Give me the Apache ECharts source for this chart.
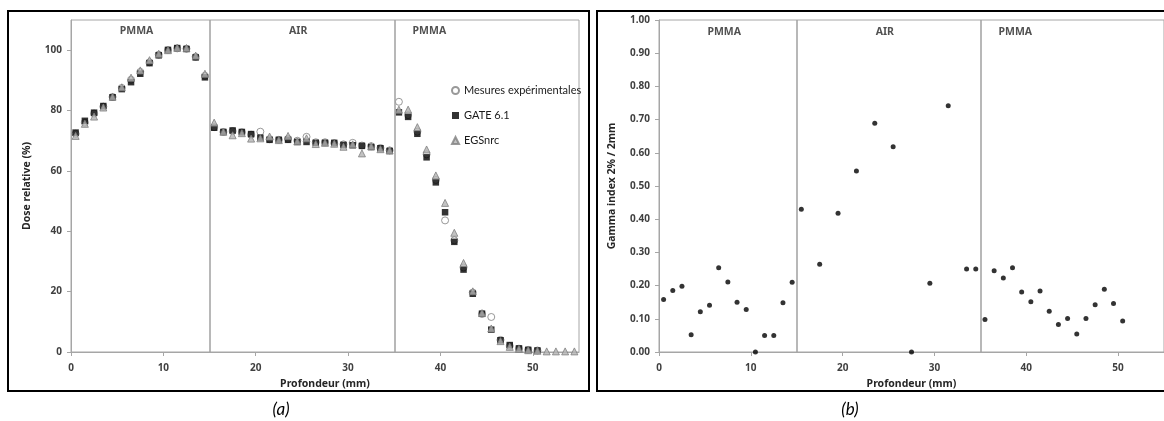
<!DOCTYPE html>
<html><head><meta charset="utf-8">
<script src="https://cdn.jsdelivr.net/npm/echarts@6/dist/echarts.min.js"></script>
<style>html,body{margin:0;padding:0;background:#fff}#c{width:1164px;height:421px}</style>
</head><body><div id="c"></div>
<script>
// ---- data ----
const depth = [0.5,1.5,2.5,3.5,4.5,5.5,6.5,7.5,8.5,9.5,10.5,11.5,12.5,13.5,14.5,15.5,16.5,17.5,18.5,19.5,20.5,21.5,22.5,23.5,24.5,25.5,26.5,27.5,28.5,29.5,30.5,31.5,32.5,33.5,34.5,35.5,36.5,37.5,38.5,39.5,40.5,41.5,42.5,43.5,44.5,45.5,46.5,47.5,48.5,49.5,50.5,51.5,52.5,53.5,54.5];
const mesures = [72.3,76.0,79.0,81.3,84.5,87.5,90.2,92.8,96.0,98.5,100.0,100.6,100.5,97.8,91.5,
  74.5,72.9,73.2,72.8,72.0,73.0,70.5,70.3,70.6,70.0,71.3,69.5,69.5,69.2,68.8,69.3,68.4,68.2,67.6,66.8,
  82.9,78.5,73.0,65.5,57.0,43.6,37.0,28.0,19.7,12.6,11.6,4.0,2.0,1.1,0.7,0.5];
const gate = [72.7,76.6,79.3,81.5,84.4,87.1,89.4,92.2,95.7,98.3,100.1,100.7,100.4,97.6,91.0,
  74.3,72.9,73.4,72.9,72.2,71.0,70.3,70.3,70.3,69.6,69.6,69.3,69.3,69.3,68.6,68.5,68.3,67.9,67.5,66.6,
  79.4,77.9,72.3,64.5,56.2,46.3,36.5,27.3,19.3,12.7,7.4,3.9,2.3,1.2,0.7,0.5];
const egs = [71.6,75.6,78.0,81.0,84.6,87.7,90.9,93.3,96.7,98.8,100.0,100.8,100.7,98.2,92.2,
  76.0,73.0,71.8,72.5,70.7,70.8,71.4,70.2,71.6,69.8,70.8,68.9,69.3,69.0,68.0,68.8,65.8,68.2,67.2,66.8,
  80.3,80.3,74.5,67.1,58.5,49.4,39.5,29.5,20.1,12.9,7.8,3.6,1.7,1.0,0.6,0.4,0.2,0.2,0.2,0.2];
const gammaDepth = [0.5,1.5,2.5,3.5,4.5,5.5,6.5,7.5,8.5,9.5,10.5,11.5,12.5,13.5,14.5,15.5,17.5,19.5,21.5,23.5,25.5,27.5,29.5,31.5,33.5,34.5,35.5,36.5,37.5,38.5,39.5,40.5,41.5,42.5,43.5,44.5,45.5,46.5,47.5,48.5,49.5,50.5];
const gamma = [0.158,0.185,0.198,0.052,0.121,0.141,0.254,0.211,0.150,0.128,0.000,0.050,0.050,0.148,0.210,0.430,0.264,0.418,0.545,0.689,0.618,0.000,0.207,0.742,0.250,0.250,0.098,0.245,0.223,0.254,0.181,0.151,0.184,0.123,0.083,0.101,0.054,0.101,0.142,0.189,0.146,0.093];
const boundaries = [15, 35];
const regionNames = ['PMMA', 'AIR', 'PMMA'];
const regionCenters = [7.1, 24.6, 38.8];
const doseTicks = [0, 20, 40, 60, 80, 100];
const gammaTicks = [0,0.1,0.2,0.3,0.4,0.5,0.6,0.7,0.8,0.9,1.0];
const depthTicks = [0, 10, 20, 30, 40, 50];
const seriesNames = ['Mesures expérimentales', 'GATE 6.1', 'EGSnrc'];
const xTitle = 'Profondeur (mm)';
const yTitleA = 'Dose relative (%)';
const yTitleB = 'Gamma index 2% / 2mm';

// ---- chart ----
const FONT = '"Noto Sans", "Open Sans", sans-serif';
const LFONT = 'Lato, "Noto Sans", sans-serif';
const pair = (xs, ys) => ys.map((v, i) => [xs[i], v]);
const labelStyle = {fontFamily: FONT, fontSize: 10, fontWeight: 'bold', color: '#404040'};
const titleStyle = {fontFamily: FONT, fontSize: 10.5, fontWeight: 'bold', color: '#262626'};
const axisLine = {show: true, lineStyle: {color: '#a6a6a6', width: 1}};
const axisTick = (vals, len) => ({show: true, length: len, lineStyle: {color: '#a6a6a6'}, customValues: vals});

function xAxis(gi) {
  return {type: 'value', gridIndex: gi, min: 0, max: 55, interval: 10,
    axisLine, axisTick: axisTick(depthTicks, 4), splitLine: {show: false},
    axisLabel: Object.assign({margin: 11, customValues: depthTicks}, labelStyle),
    name: xTitle, nameLocation: 'middle', nameGap: 27, nameTextStyle: titleStyle};
}
const sepLine = {silent: true, symbol: 'none', label: {show: false},
  lineStyle: {color: '#a0a0a0', width: 1.5, type: 'solid'},
  data: boundaries.map(b => ({xAxis: b}))};

function regionSeries(xi, yi, yVal) {
  return {type: 'scatter', xAxisIndex: xi, yAxisIndex: yi, symbolSize: 0, silent: true,
    data: regionNames.map((n, i) => ({name: n, value: [regionCenters[i], yVal]})),
    label: {show: true, position: 'inside', formatter: p => p.name,
      fontFamily: FONT, fontSize: 10.5, fontWeight: 'bold', color: '#262626'},
    markLine: sepLine, z: 1};
}

const chart = echarts.init(document.getElementById('c'), null, {renderer: 'canvas'});
chart.setOption({
  animation: false,
  backgroundColor: '#fff',
  grid: [
    {left: 71, top: 20, width: 508, height: 332, show: true, borderColor: '#a6a6a6', borderWidth: 1, backgroundColor: 'transparent'},
    {left: 659, top: 20, width: 508, height: 332, show: true, borderColor: '#a6a6a6', borderWidth: 1, backgroundColor: 'transparent'}
  ],
  xAxis: [xAxis(0), xAxis(1)],
  yAxis: [
    {type: 'value', gridIndex: 0, min: 0, max: 110, interval: 10,
      axisLine, axisTick: axisTick(doseTicks, 4), splitLine: {show: false},
      axisLabel: Object.assign({margin: 9, customValues: doseTicks}, labelStyle),
      name: yTitleA, nameLocation: 'middle', nameGap: 38, nameRotate: 90, nameTextStyle: titleStyle},
    {type: 'value', gridIndex: 1, min: 0, max: 1, interval: 0.1,
      axisLine, axisTick: axisTick(gammaTicks, 4), splitLine: {show: false},
      axisLabel: Object.assign({margin: 9, customValues: gammaTicks, formatter: v => v.toFixed(2)}, labelStyle),
      name: yTitleB, nameLocation: 'middle', nameGap: 41, nameRotate: 90, nameTextStyle: titleStyle}
  ],
  legend: {
    data: seriesNames, orient: 'vertical', left: 446, top: 80, itemGap: 14,
    itemWidth: 7, itemHeight: 7,
    textStyle: {fontFamily: LFONT, fontSize: 11, color: '#1a1a1a'}
  },
  graphic: [
    {type: 'rect', shape: {x: 8, y: 11, width: 581, height: 380}, style: {fill: 'none', stroke: '#000', lineWidth: 2}, silent: true, z: 100},
    {type: 'rect', shape: {x: 597, y: 11, width: 600, height: 380}, style: {fill: 'none', stroke: '#000', lineWidth: 2}, silent: true, z: 100},
    {type: 'text', x: 281, y: 410, style: {text: '(a)', font: 'italic 17px Lato', fill: '#000', textAlign: 'center', textVerticalAlign: 'middle'}},
    {type: 'text', x: 850, y: 410, style: {text: '(b)', font: 'italic 17px Lato', fill: '#000', textAlign: 'center', textVerticalAlign: 'middle'}}
  ],
  series: [
    regionSeries(0, 0, 106.3),
    regionSeries(1, 1, 0.965),
    {name: seriesNames[0], type: 'scatter', xAxisIndex: 0, yAxisIndex: 0, symbol: 'circle', symbolSize: 7,
      itemStyle: {color: '#fff', borderColor: '#7f7f7f', borderWidth: 1}, data: pair(depth, mesures), z: 2},
    {name: seriesNames[1], type: 'scatter', xAxisIndex: 0, yAxisIndex: 0, symbol: 'rect', symbolSize: 6.5,
      itemStyle: {color: '#000'}, data: pair(depth, gate), z: 3},
    {name: seriesNames[2], type: 'scatter', xAxisIndex: 0, yAxisIndex: 0, symbol: 'triangle', symbolSize: 7,
      itemStyle: {color: '#b3b3b3', borderColor: '#7f7f7f', borderWidth: 1}, data: pair(depth, egs), z: 4},
    {name: 'Gamma', type: 'scatter', xAxisIndex: 1, yAxisIndex: 1, symbol: 'circle', symbolSize: 5,
      itemStyle: {color: '#000'}, data: pair(gammaDepth, gamma), z: 3}
  ]
});
</script>
</body></html>
